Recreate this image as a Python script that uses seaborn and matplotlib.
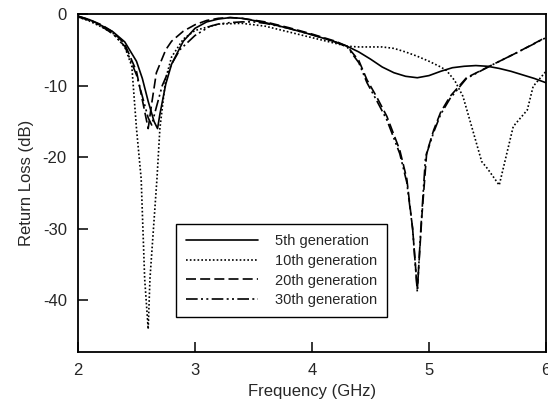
import numpy as np
import pandas as pd
import matplotlib
matplotlib.use('Agg')
import matplotlib.pyplot as plt
import seaborn as sns

# ── Data ──────────────────────────────────────────────────────────────────────
gen5_f = [2.0, 2.1, 2.2, 2.3, 2.4, 2.5, 2.55, 2.6, 2.65, 2.68, 2.7, 2.75, 2.8,
          2.9, 3.0, 3.1, 3.2, 3.3, 3.4, 3.6, 3.8, 4.0, 4.2, 4.3, 4.4, 4.5, 4.6,
          4.7, 4.8, 4.9, 5.0, 5.1, 5.2, 5.3, 5.4, 5.5, 5.6, 5.7, 5.8, 5.9, 6.0]
gen5_db = [-0.3, -0.8, -1.6, -2.5, -3.9, -6.6, -9.0, -12.2, -15.0, -16.0, -14.0,
           -9.8, -7.0, -3.8, -2.0, -1.1, -0.7, -0.5, -0.6, -1.2, -2.0, -2.9,
           -3.9, -4.5, -5.3, -6.3, -7.4, -8.2, -8.7, -8.9, -8.6, -8.0, -7.5,
           -7.3, -7.2, -7.3, -7.6, -8.0, -8.5, -9.0, -9.6]

gen10_f = [2.0, 2.1, 2.2, 2.3, 2.4, 2.46, 2.5, 2.54, 2.57, 2.6, 2.615, 2.645,
           2.675, 2.7, 2.75, 2.8, 2.9, 3.0, 3.2, 3.4, 3.6, 3.8, 4.0, 4.2, 4.3,
           4.4, 4.5, 4.6, 4.7, 4.8, 4.9, 5.0, 5.1, 5.15, 5.22, 5.29, 5.38, 5.45,
           5.5, 5.6, 5.72, 5.84, 5.89, 6.0]
gen10_db = [-0.4, -1.0, -1.8, -2.7, -4.6, -7.3, -16.0, -23.0, -37.0, -44.0,
            -37.0, -30.0, -23.0, -16.0, -9.0, -6.0, -3.5, -2.3, -1.4, -1.3,
            -1.7, -2.5, -3.3, -4.1, -4.5, -4.6, -4.6, -4.6, -4.8, -5.3, -5.9,
            -6.6, -7.4, -7.9, -9.3, -11.5, -16.6, -20.6, -21.6, -23.9, -15.7,
            -13.4, -10.1, -8.0]

gen20_f = [2.0, 2.1, 2.2, 2.3, 2.4, 2.5, 2.55, 2.6, 2.63, 2.67, 2.75, 2.8, 2.9,
           3.0, 3.1, 3.2, 3.3, 3.4, 3.6, 3.8, 4.0, 4.2, 4.3, 4.4, 4.47, 4.55,
           4.64, 4.75, 4.81, 4.86, 4.9, 4.94, 4.98, 5.04, 5.1, 5.18, 5.32, 5.54,
           5.75, 5.97, 6.0]
gen20_db = [-0.3, -0.8, -1.5, -2.5, -4.2, -8.0, -12.0, -16.0, -12.5, -8.2, -5.0,
            -3.8, -2.4, -1.5, -0.9, -0.6, -0.5, -0.6, -1.1, -1.9, -2.8, -3.8,
            -4.5, -6.5, -9.2, -11.5, -14.3, -19.0, -23.0, -30.0, -38.5, -28.0,
            -19.4, -16.2, -13.7, -11.5, -8.9, -7.1, -5.4, -3.5, -3.3]

gen30_f = [2.0, 2.1, 2.2, 2.3, 2.4, 2.5, 2.55, 2.6, 2.63, 2.67, 2.72, 2.8, 2.87,
           3.0, 3.13, 3.2, 3.3, 3.4, 3.5, 3.6, 3.8, 4.0, 4.2, 4.3, 4.4, 4.47,
           4.55, 4.64, 4.75, 4.81, 4.86, 4.9, 4.93, 4.97, 5.04, 5.1, 5.18, 5.32,
           5.54, 5.75, 6.0]
gen30_db = [-0.4, -0.9, -1.7, -2.8, -4.5, -8.5, -11.5, -14.5, -15.5, -13.0,
            -10.0, -7.0, -5.0, -3.0, -1.7, -1.4, -1.2, -1.1, -1.1, -1.3, -2.0,
            -2.9, -3.9, -4.6, -6.8, -9.6, -12.0, -14.8, -19.5, -23.5, -30.0,
            -38.8, -30.0, -20.0, -16.5, -14.0, -11.8, -9.0, -7.1, -5.4, -3.3]

labels = ['5th generation', '10th generation', '20th generation', '30th generation']
xticks = [2, 3, 4, 5, 6]
yticks = [0, -10, -20, -30, -40]

# ── Style ─────────────────────────────────────────────────────────────────────
sns.set_style('ticks')
plt.rcParams.update({
    'font.family': ['Liberation Sans', 'DejaVu Sans'],
    'font.size': 12,
    'axes.linewidth': 1.3,
    'xtick.direction': 'in', 'ytick.direction': 'in',
    'xtick.major.size': 7, 'ytick.major.size': 7,
    'xtick.major.width': 1.3, 'ytick.major.width': 1.3,
})

fig = plt.figure(figsize=(5.48, 4.05), dpi=100)
ax = fig.add_axes([0.1423, 0.1309, 0.8541, 0.8345])

series = [(gen5_f, gen5_db, '-'),
          (gen10_f, gen10_db, (0, (1, 1.3))),
          (gen20_f, gen20_db, (0, (6, 2.5))),
          (gen30_f, gen30_db, (0, (7, 2, 1.2, 2, 1.2, 2)))]
for (f, db, ls), lab in zip(series, labels):
    sns.lineplot(x=f, y=db, ax=ax, color='black', lw=1.2, linestyle=ls,
                 label=lab, sort=False, estimator=None)

ax.set_xlim(2, 6)
ax.set_ylim(-47.2, 0)
ax.set_xticks(xticks)
ax.set_yticks(yticks)
ax.set_xticklabels([str(t) for t in xticks])
ax.set_yticklabels([str(t) for t in yticks])
ax.tick_params(labelsize=12, pad=8)
ax.set_xlabel('Frequency (GHz)', fontsize=12, labelpad=4)
ax.set_ylabel('Return Loss (dB)', fontsize=12, labelpad=6)
for s in ax.spines.values():
    s.set_visible(True)
    s.set_color('black')

leg = ax.legend(loc='upper left', bbox_to_anchor=(0.21, 0.378), fontsize=10.5,
                frameon=True, fancybox=False, edgecolor='black', framealpha=1,
                handlelength=4.9, handletextpad=1.15, labelspacing=0.38,
                borderpad=0.7, borderaxespad=0)
leg.get_frame().set_linewidth(1.0)

plt.savefig('out.png', dpi=100)
plt.close()
